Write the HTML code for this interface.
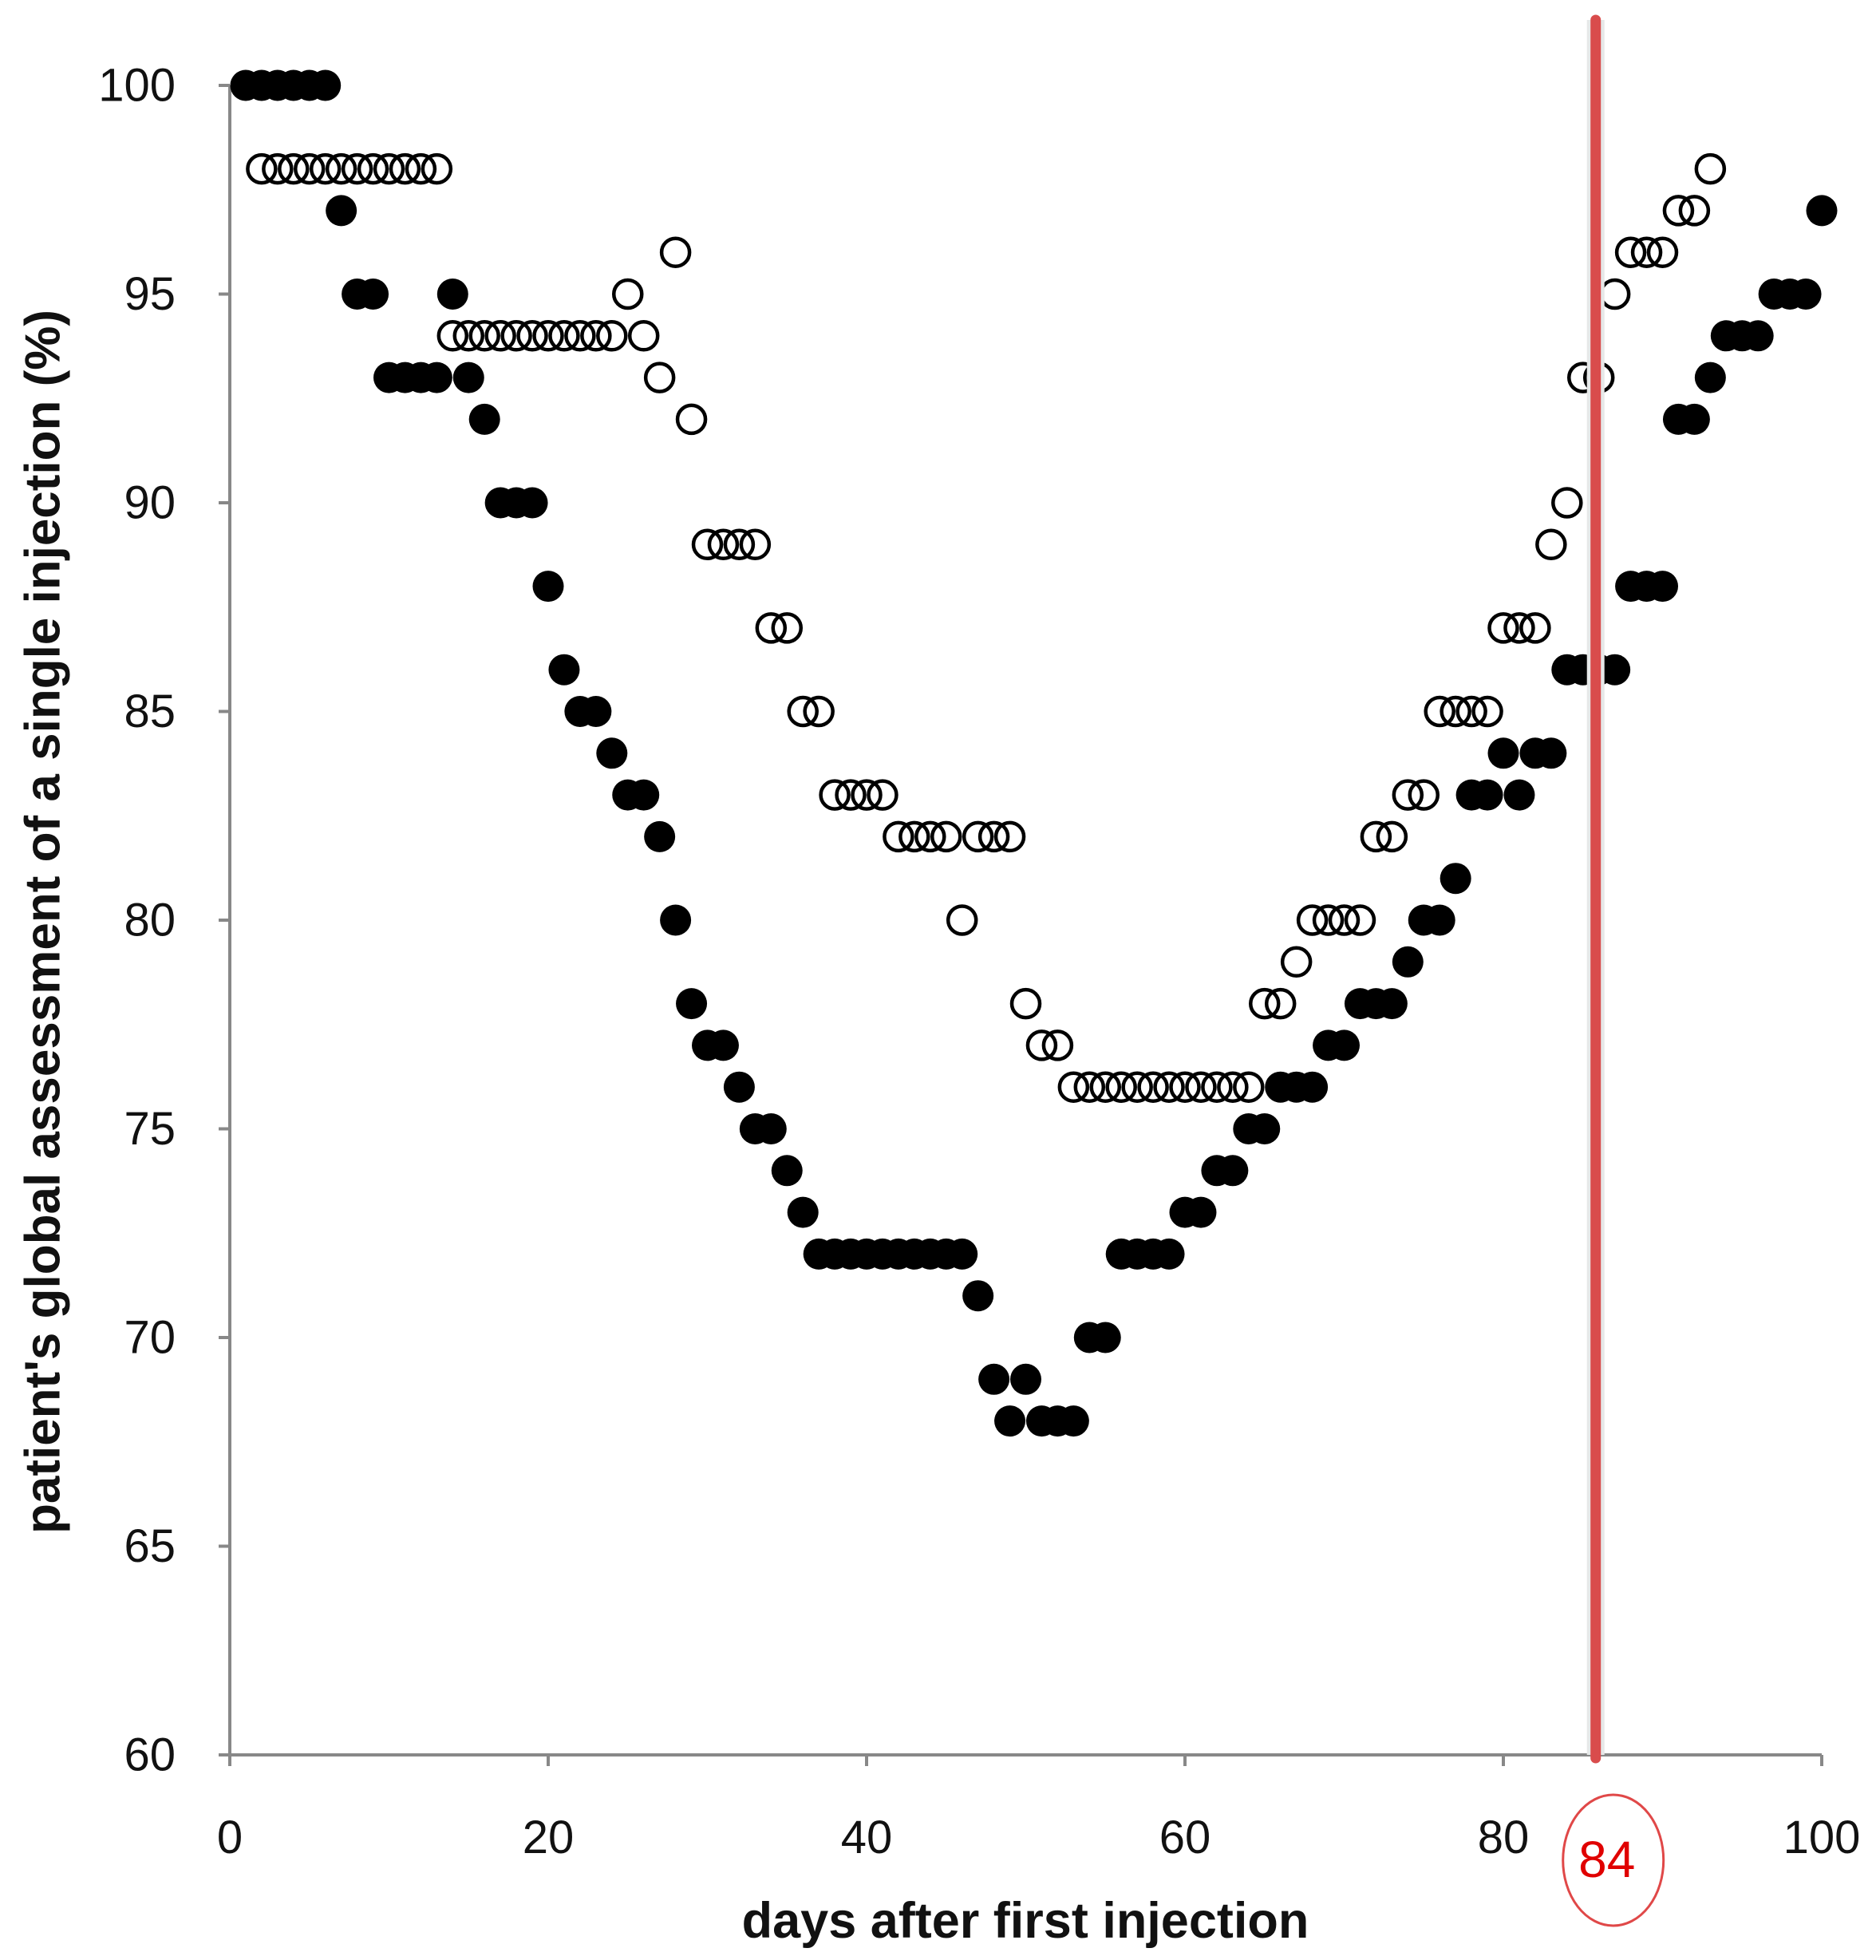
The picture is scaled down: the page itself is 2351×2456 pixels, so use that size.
<!DOCTYPE html>
<html><head><meta charset="utf-8"><style>
html,body{margin:0;padding:0;background:#fff;}
svg{display:block;font-family:"Liberation Sans",sans-serif;}
</style></head><body>
<svg id="chart" width="2351" height="2456" viewBox="0 0 2351 2456">
<g id="axes"></g>
<g id="marks"></g>
<text x="58" y="1155" transform="rotate(-90 58 1155)" text-anchor="middle" dominant-baseline="middle" font-size="62" font-weight="bold" fill="#111">patient's global assessment of a single injection (%)</text>
<text x="1285" y="2428" text-anchor="middle" font-size="63" font-weight="bold" fill="#111">days after first injection</text>
</svg>
<script>
const filledDays = [1,2,3,4,5,6,7,8,9,10,11,12,13,14,15,16,17,18,19,20,21,22,23,24,25,26,27,28,29,30,31,32,33,34,35,36,37,38,39,40,41,42,43,44,45,46,47,48,49,50,51,52,53,54,55,56,57,58,59,60,61,62,63,64,65,66,67,68,69,70,71,72,73,74,75,76,77,78,79,80,81,82,83,84,85,86,87,88,89,90,91,92,93,94,95,96,97,98,99,100];
const filledVals = [100,100,100,100,100,100,97,95,95,93,93,93,93,95,93,92,90,90,90,88,86,85,85,84,83,83,82,80,78,77,77,76,75,75,74,73,72,72,72,72,72,72,72,72,72,72,71,69,68,69,68,68,68,70,70,72,72,72,72,73,73,74,74,75,75,76,76,76,77,77,78,78,78,79,80,80,81,83,83,84,83,84,84,86,86,86,86,88,88,88,92,92,93,94,94,94,95,95,95,97];
const openDays = [2,3,4,5,6,7,8,9,10,11,12,13,14,15,16,17,18,19,20,21,22,23,24,25,26,27,28,29,30,31,32,33,34,35,36,37,38,39,40,41,42,43,44,45,46,47,48,49,50,51,52,53,54,55,56,57,58,59,60,61,62,63,64,65,66,67,68,69,70,71,72,73,74,75,76,77,78,79,80,81,82,83,84,85,86,87,88,89,90,91,92,93];
const openVals = [98,98,98,98,98,98,98,98,98,98,98,98,94,94,94,94,94,94,94,94,94,94,94,95,94,93,96,92,89,89,89,89,87,87,85,85,83,83,83,83,82,82,82,82,80,82,82,82,78,77,77,76,76,76,76,76,76,76,76,76,76,76,76,78,78,79,80,80,80,80,82,82,83,83,85,85,85,85,87,87,87,89,90,93,93,95,96,96,96,97,97,98];
const xTicks = [0,20,40,60,80,100];
const yTicks = [60,65,70,75,80,85,90,95,100];
const markerDay = 85.8;
const markerLabel = "84";

const NS="http://www.w3.org/2000/svg";
const X0=288,X1=2283,Y0=2199,Y1=107;
const sx=d=>X0+(d-0)/(100-0)*(X1-X0);
const sy=v=>Y0-(v-60)/(100-60)*(Y0-Y1);
function mk(tag,attrs,parent){const e=document.createElementNS(NS,tag);for(const k in attrs)e.setAttribute(k,attrs[k]);parent.appendChild(e);return e;}
const axes=document.getElementById('axes'),marks=document.getElementById('marks'),svg=document.getElementById('chart');

let l=mk('line',{x1:X0,y1:Y1,x2:X0,y2:Y0,stroke:'#888','stroke-width':4},axes);


l=mk('line',{x1:X0,y1:Y0,x2:X1,y2:Y0,stroke:'#888','stroke-width':4},axes);


yTicks.forEach(v=>{
  const t=mk('line',{x1:X0-14,y1:sy(v),x2:X0,y2:sy(v),stroke:'#888','stroke-width':4},axes);
  
  
  const tx=mk('text',{x:220,y:sy(v),'text-anchor':'end','dominant-baseline':'central','font-size':58,fill:'#111'},axes);
  tx.textContent=v;
  
  
});
xTicks.forEach(v=>{
  const t=mk('line',{x1:sx(v),y1:Y0,x2:sx(v),y2:Y0+14,stroke:'#888','stroke-width':4},axes);
  
  
  const tx=mk('text',{x:sx(v),y:2322,'text-anchor':'middle','font-size':58,fill:'#111'},axes);
  tx.textContent=v;
  
  
});
openDays.forEach((d,i)=>{
  const e=mk('circle',{cx:sx(d),cy:sy(openVals[i]),r:17.5,fill:'none',stroke:'#000','stroke-width':4.5},marks);
  
  
});
filledDays.forEach((d,i)=>{
  const e=mk('circle',{cx:sx(d),cy:sy(filledVals[i]),r:19.5,fill:'#000'},marks);
  
  
});
const mx=sx(markerDay);
let h=mk('line',{x1:mx,y1:25,x2:mx,y2:Y0,stroke:'#e6e8e8','stroke-width':22},svg);


h=mk('line',{x1:mx,y1:25,x2:mx,y2:Y0+4,stroke:'#d94c4c','stroke-width':13,'stroke-linecap':'round'},svg);


h=mk('ellipse',{cx:mx+22,cy:2331,rx:63,ry:82,fill:'none',stroke:'#e04848','stroke-width':3},svg);


h=mk('text',{x:mx+14,y:2352,'text-anchor':'middle','font-size':64,fill:'#e00000'},svg);
h.textContent=markerLabel;


</script>
</body></html>
